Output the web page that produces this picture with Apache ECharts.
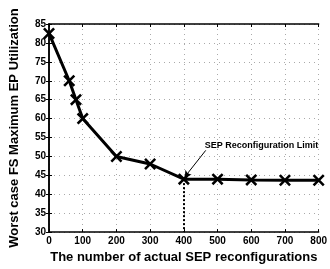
<!DOCTYPE html>
<html>
<head>
<meta charset="utf-8">
<script src="https://cdn.jsdelivr.net/npm/echarts@6/dist/echarts.min.js"></script>
<style>html,body{margin:0;padding:0;background:#fff}#c{width:330px;height:269px}</style>
</head>
<body>
<div id="c"></div>
<script>
var xValues = [0, 60, 80, 100, 200, 300, 400, 500, 600, 700, 800];
var yValues = [82.5, 70, 65, 60, 50, 48, 44, 44, 43.8, 43.7, 43.7];
var xTicks = [0, 100, 200, 300, 400, 500, 600, 700, 800];
var yTicks = [30, 35, 40, 45, 50, 55, 60, 65, 70, 75, 80, 85];
var limitX = 400;
var limitY = 44;
var annotationText = 'SEP Reconfiguration Limit';

var FONT = 'Liberation Sans';
var xSym = 'path://M3,0 L10,7 L17,0 L20,3 L13,10 L20,17 L17,20 L10,13 L3,20 L0,17 L7,10 L0,3 Z';
var chart = echarts.init(document.getElementById('c'));
var gridLine = {show: true, lineStyle: {color: '#aaaaaa', type: [1, 4], width: 1}};
var boxLine = {show: true, lineStyle: {color: '#000', width: 1.5}};
chart.setOption({
  animation: false,
  grid: {left: 45, right: 9, top: 24, bottom: 29, containLabel: false},
  xAxis: [{
    type: 'value', min: 0, max: 800, interval: 100,
    axisLine: boxLine, axisTick: {show: true, inside: true, length: 3, lineStyle: {color: '#000'}},
    splitLine: gridLine,
    axisLabel: {color: '#000', fontFamily: FONT, fontWeight: 'bold', fontSize: 10, margin: 4,
      formatter: function (v) { return xTicks.indexOf(v) >= 0 ? String(v) : ''; }},
    name: 'The number of actual SEP reconfigurations', nameLocation: 'middle', nameGap: 16,
    nameTextStyle: {color: '#000', fontFamily: FONT, fontWeight: 'bold', fontSize: 13}
  }, {
    type: 'value', position: 'top', min: 0, max: 800, interval: 100,
    axisLine: boxLine, axisTick: {show: true, inside: true, length: 3, lineStyle: {color: '#000'}},
    axisLabel: {show: false}, splitLine: {show: false}
  }],
  yAxis: [{
    type: 'value', min: 30, max: 85, interval: 5,
    axisLine: boxLine, axisTick: {show: true, inside: true, length: 3, lineStyle: {color: '#000'}},
    splitLine: gridLine,
    axisLabel: {color: '#000', fontFamily: FONT, fontWeight: 'bold', fontSize: 10, margin: 3,
      formatter: function (v) { return yTicks.indexOf(v) >= 0 ? String(v) : ''; }},
    name: 'Worst case FS Maximum EP Utilization', nameLocation: 'middle', nameGap: 28,
    nameTextStyle: {color: '#000', fontFamily: FONT, fontWeight: 'bold', fontSize: 13}
  }, {
    type: 'value', position: 'right', min: 30, max: 85, interval: 5,
    axisLine: boxLine, axisTick: {show: true, inside: true, length: 3, lineStyle: {color: '#000'}},
    axisLabel: {show: false}, splitLine: {show: false}
  }],
  series: [{
    type: 'line',
    data: xValues.map(function (x, i) { return [x, yValues[i]]; }),
    symbol: xSym, symbolSize: 12,
    lineStyle: {color: '#000', width: 3},
    itemStyle: {color: '#000'},
    z: 5,
    markLine: {
      silent: true, animation: false,
      label: {show: false},
      data: [
        [{coord: [limitX, limitY], symbol: 'none', lineStyle: {type: [2, 2], width: 2, color: '#000'}},
         {coord: [limitX, 30], symbol: 'none'}],
        [{coord: [465, 51.6], symbol: 'none', lineStyle: {type: 'solid', width: 1, color: '#000'}},
         {coord: [limitX + 3, limitY + 0.6], symbol: 'arrow', symbolSize: 6}]
      ]
    },
    markPoint: {
      silent: true, animation: false, symbolSize: 0,
      data: [{coord: [462, 53], symbol: 'circle', symbolSize: 0,
        label: {show: true, position: 'right', distance: 0, formatter: annotationText,
          color: '#000', fontFamily: FONT, fontWeight: 'bold', fontSize: 9}}]
    }
  }]
});
</script>
</body>
</html>
